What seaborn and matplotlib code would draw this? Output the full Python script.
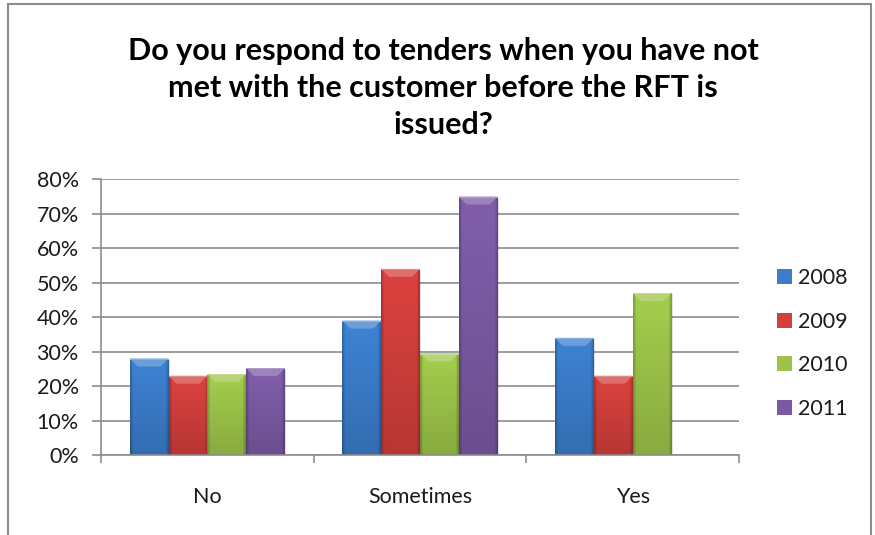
import numpy as np
import pandas as pd
import matplotlib
matplotlib.use("Agg")
import matplotlib.pyplot as plt
import seaborn as sns
from matplotlib.patches import Polygon, Rectangle

# Survey answers (share of respondents) by year
categories = ["No", "Sometimes", "Yes"]
years = ["2008", "2009", "2010", "2011"]
share_2008 = [0.28, 0.39, 0.34]
share_2009 = [0.23, 0.54, 0.23]
share_2010 = [0.235, 0.295, 0.47]
share_2011 = [0.252, 0.75, 0.0]
y_ticks = [0.0, 0.1, 0.2, 0.3, 0.4, 0.5, 0.6, 0.7, 0.8]
title = "Do you respond to tenders when you have not\nmet with the customer before the RFT is\nissued?"

palette = {"2008": "#3b7dcb", "2009": "#d23f3c", "2010": "#9dc449", "2011": "#7b5aa4"}

df = pd.DataFrame({
    "answer": np.repeat(categories, len(years)),
    "year": years * len(categories),
    "share": np.ravel(np.column_stack([share_2008, share_2009, share_2010, share_2011])),
})

sns.set_theme(style="white")
plt.rcParams["font.family"] = ["Lato", "DejaVu Sans"]

LABEL_SIZE = 15.5

fig = plt.figure(figsize=(8.75, 5.35), dpi=100)
ax = fig.add_axes([101 / 875, 1 - 455 / 535, 638 / 875, (455 - 179.3) / 535])

sns.barplot(data=df, x="answer", y="share", hue="year", order=categories,
            hue_order=years, palette=palette, width=0.73, ax=ax,
            legend=True, saturation=1, edgecolor="none", linewidth=0)

ax.set_ylim(0, 0.8)
ax.set_xlim(-0.5, 2.5)
ax.set_yticks(y_ticks)
ax.set_yticklabels([f"{int(round(v * 100))}%" for v in y_ticks])
ax.set_xlabel("")
ax.set_ylabel("")
ax.yaxis.grid(True, color="#8c8c8c", linewidth=1.2)
ax.set_axisbelow(True)
for side in ("top", "right"):
    ax.spines[side].set_visible(False)
for side in ("left", "bottom"):
    ax.spines[side].set_color("#8c8c8c")
    ax.spines[side].set_linewidth(1.2)
ax.tick_params(axis="y", length=6.5, width=1.2, color="#8c8c8c", pad=9.5,
               labelsize=LABEL_SIZE, labelcolor="#1a1a1a", left=True)
ax.tick_params(axis="x", which="major", length=0, pad=23, labelsize=LABEL_SIZE,
               labelcolor="#1a1a1a")
ax.set_xticks([-0.5, 0.5, 1.5, 2.5], minor=True)
ax.tick_params(axis="x", which="minor", length=6, width=1.2, color="#8c8c8c",
               bottom=True)

# Excel-style shading: vertical gradient, darker side edges and a bevelled top
px_per_unit_y = (455 - 179.3) / 0.8
px_per_unit_x = 638 / 3.0


def shade(rgb, f):
    rgb = np.asarray(rgb)
    if f >= 1:
        return rgb + (1 - rgb) * (f - 1)
    return rgb * f


bars = [p for p in ax.patches if isinstance(p, Rectangle) and p.get_height() > 0
        and p.get_width() < 1]
for bar in bars:
    x0, y0 = bar.get_x(), bar.get_y()
    w, h = bar.get_width(), bar.get_height()
    base = np.array(bar.get_facecolor()[:3])
    ny, nx = 120, 40
    yy = np.linspace(0, 1, ny)[:, None]      # 0 top -> 1 bottom
    xx = np.linspace(0, 1, nx)[None, :]
    vert = 1.05 - 0.18 * yy
    edge = 1 - 0.22 * np.clip(1 - np.minimum(xx, 1 - xx) / 0.08, 0, 1)
    fac = vert * edge
    img = np.clip(base[None, None, :] * fac[..., None], 0, 1)
    # soft shadow to the right / below
    ax.add_patch(Rectangle((x0 + 0.006, y0), w, h - 0.004, facecolor="black",
                           alpha=0.12, edgecolor="none", zorder=bar.get_zorder() - 0.1))
    im = ax.imshow(img, extent=(x0, x0 + w, y0, y0 + h), aspect="auto",
                   interpolation="bilinear", zorder=bar.get_zorder() + 0.1)
    im.set_clip_path(bar)
    bev_h = 8 / px_per_unit_y
    bev_w = 8 / px_per_unit_x
    top = y0 + h
    bevel = Polygon([(x0, top), (x0 + w, top), (x0 + w - bev_w, top - bev_h),
                     (x0 + bev_w, top - bev_h)], closed=True,
                    facecolor=shade(base, 1.25), edgecolor="none",
                    zorder=bar.get_zorder() + 0.2)
    ax.add_patch(bevel)
    ax.add_patch(Polygon([(x0, top), (x0 + w, top), (x0 + w, top - 1.2 / px_per_unit_y),
                          (x0, top - 1.2 / px_per_unit_y)], closed=True,
                         facecolor=shade(base, 1.4), edgecolor="none",
                         zorder=bar.get_zorder() + 0.3))
ax.set_xlim(-0.5, 2.5)
ax.set_ylim(0, 0.8)

# legend to the right of the plot
handles, labels = ax.get_legend_handles_labels()
ax.legend(handles, labels, loc="center left",
          bbox_to_anchor=((777 - 101) / 638, (455 - 343.5) / (455 - 179.3)),
          frameon=False, fontsize=LABEL_SIZE, handlelength=0.68, handleheight=0.68,
          handletextpad=0.3, labelspacing=1.1, borderaxespad=0, borderpad=0)
for t in ax.get_legend().get_texts():
    t.set_color("#1a1a1a")

fig.text(443 / 875, 1 - 88 / 535, title, ha="center", va="center",
         fontsize=22, fontweight="bold", color="#000000", linespacing=1.38)

# chart area frame
fig.add_artist(Rectangle((8 / 875, -0.05), (871 - 8) / 875, 1.05 - 3.5 / 535,
                         transform=fig.transFigure, fill=False,
                         edgecolor="#8c8c8c", linewidth=1.5))

fig.savefig("out.png", dpi=100, facecolor="white")
